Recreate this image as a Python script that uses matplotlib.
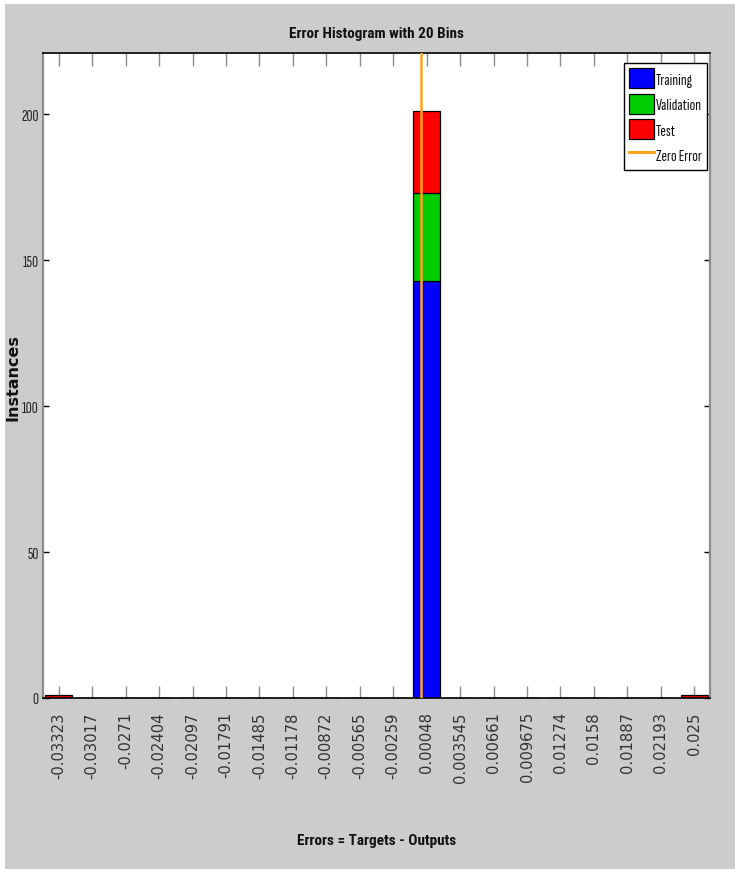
import numpy as np
import matplotlib
matplotlib.use("Agg")
import matplotlib.pyplot as plt
from matplotlib import font_manager
from matplotlib.patches import Rectangle

# ---------------- data ----------------
bin_labels = ['-0.03323', '-0.03017', '-0.0271', '-0.02404', '-0.02097',
              '-0.01791', '-0.01485', '-0.01178', '-0.00872', '-0.00565',
              '-0.00259', '0.00048', '0.003545', '0.00661', '0.009675',
              '0.01274', '0.0158', '0.01887', '0.02193', '0.025']
bin_centers = [-0.03323, -0.03017, -0.0271, -0.02404, -0.02097,
               -0.01791, -0.01485, -0.01178, -0.00872, -0.00565,
               -0.00259, 0.00048, 0.003545, 0.00661, 0.009675,
               0.01274, 0.0158, 0.01887, 0.02193, 0.025]
training   = [0, 0, 0, 0, 0, 0, 0, 0, 0, 0, 0, 143, 0, 0, 0, 0, 0, 0, 0, 0]
validation = [0, 0, 0, 0, 0, 0, 0, 0, 0, 0, 0, 30, 0, 0, 0, 0, 0, 0, 0, 0]
test       = [1, 0, 0, 0, 0, 0, 0, 0, 0, 0, 0, 28, 0, 0, 0, 0, 0, 0, 0, 1]
y_ticks = [0, 50, 100, 150, 200]
zero_error = 0.0

# ---------------- fonts ----------------
ttf = font_manager.fontManager.ttflist
avail = {f.name for f in ttf}
bold_avail = {f.name for f in ttf if isinstance(f.weight, int) and f.weight >= 600}
def pick(cands, pool):
    for c in cands:
        if c in pool:
            return c
    return 'Liberation Sans'
narrow = pick(['Sofia Sans Extra Condensed', 'Archivo Narrow',
               'Liberation Sans Narrow'], avail)
narrow_b = pick(['Roboto Condensed', 'Barlow Condensed', 'Archivo Narrow',
                 'PT Sans Narrow', 'Fira Sans Condensed', 'IBM Plex Sans Condensed',
                 'Saira ExtraCondensed', 'Liberation Sans Narrow'], bold_avail)

# ---------------- figure ----------------
W, H = 735, 870
fig = plt.figure(figsize=(W / 100, H / 100), dpi=100, facecolor='white')
fig.add_artist(Rectangle((5 / W, 0), 1, 1 - 5 / H, transform=fig.transFigure,
                         facecolor='#cccccc', edgecolor='none', zorder=-10))

ax = fig.add_axes([43 / W, 1 - 699 / H, (710 - 43) / W, (699 - 54) / H])
ax.set_facecolor('white')

x = np.array(bin_centers)
bw = (x[-1] - x[0]) / (len(x) - 1)
tr = np.array(training)
va = np.array(validation)
te = np.array(test)

h_tr = ax.bar(x, tr, width=0.8 * bw, color='#0000ff', edgecolor='black',
              linewidth=0.9, label='Training', zorder=2)
h_va = ax.bar(x, va, width=0.8 * bw, bottom=tr, color='#00cc00', edgecolor='black',
              linewidth=0.9, label='Validation', zorder=2)
h_te = ax.bar(x, te, width=0.8 * bw, bottom=tr + va, color='#ff0000',
              edgecolor='black', linewidth=0.9, label='Test', zorder=2)
h_ze = ax.axvline(zero_error, color='#ffa31a', linewidth=1.8, label='Zero Error',
                  zorder=3)

ax.set_xlim(x[0] - 0.47 * bw, x[-1] + 0.47 * bw)
ax.set_ylim(0, 221)

ax.set_xticks(x)
ax.set_xticklabels(bin_labels, rotation=90, ha='center', va='top',
                   fontsize=10.6, family='DejaVu Sans', color='#333333')
ax.tick_params(axis='x', direction='in', length=9, width=1, color='#8c8c8c',
               top=True, bottom=True, pad=9.5)
ax.set_yticks(y_ticks)
ax.set_yticklabels([str(v) for v in y_ticks], fontsize=12, family=narrow,
                   color='#222222')
ax.tick_params(axis='y', direction='in', length=4.5, width=1, color='black',
               left=True, right=True, pad=3)

for s in ['top', 'bottom']:
    ax.spines[s].set_color('black')
    ax.spines[s].set_linewidth(1.2)
for s in ['left', 'right']:
    ax.spines[s].set_color('#8c8c8c')
    ax.spines[s].set_linewidth(1.6)

ax.set_title('Error Histogram with 20 Bins', fontsize=11, family=narrow_b,
             fontweight='bold', pad=11.5, color='#111111')
ax.set_xlabel('Errors = Targets - Outputs', fontsize=11, family=narrow_b,
              fontweight='bold', color='#111111')
ax.xaxis.set_label_coords(0.5, -0.209)
ax.xaxis.label.set_va('top')
ax.set_ylabel('Instances', fontsize=11.5, family='DejaVu Sans',
              fontweight='bold', color='#111111')
ax.yaxis.set_label_coords(-0.033, 0.498)

leg = ax.legend([h_tr, h_va, h_te, h_ze],
                ['Training', 'Validation', 'Test', 'Zero Error'],
                loc='upper right', bbox_to_anchor=(0.9955, 0.9845),
                borderaxespad=0, fancybox=False, framealpha=1,
                edgecolor='black', prop={'family': narrow, 'size': 12},
                handlelength=1.5, handleheight=1.47, labelspacing=0.33,
                handletextpad=0.1, borderpad=0.31)
leg.get_frame().set_linewidth(1.0)
for t in leg.get_texts():
    t.set_color('#111111')
for hnd in leg.legend_handles:
    if hnd.__class__.__name__ == 'Line2D':
        hnd.set_linewidth(2.2)

fig.savefig('out.png', dpi=100, facecolor=fig.get_facecolor())
